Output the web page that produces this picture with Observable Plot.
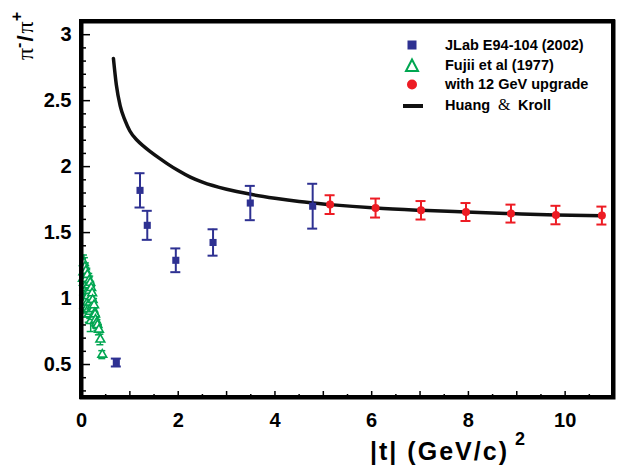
<!DOCTYPE html>
<html><head><meta charset="utf-8">
<script src="https://cdn.jsdelivr.net/npm/d3@7"></script>
<script src="https://cdn.jsdelivr.net/npm/@observablehq/plot@0.6"></script>
<style>body{margin:0;background:#fff;overflow:hidden} #chart svg{display:block}</style>
</head><body><div id="chart"></div>
<script>
// JLab E94-104 (2002)
const jlabT = [0.72, 1.21, 1.36, 1.95, 2.72, 3.49, 4.78];
const jlabR = [0.515, 1.82, 1.555, 1.29, 1.425, 1.724, 1.70];
const jlabE = [0.03, 0.13, 0.11, 0.09, 0.10, 0.13, 0.17];
// Fujii et al (1977)
const fujiiT = [0.03,0.04,0.05,0.05,0.06,0.06,0.07,0.08,0.08,0.09,0.09,0.10,0.11,0.11,0.12,0.12,0.13,0.14,0.14,0.15,0.16,0.16,0.17,0.18,0.18,0.19,0.20,0.20,0.21,0.22,0.23,0.24,0.25,0.26,0.27,0.28,0.29,0.31,0.33,0.36,0.39,0.43];
const fujiiR = [1.15,1.20,1.12,1.27,1.05,0.95,1.24,0.98,1.10,1.15,1.21,1.08,0.93,1.05,1.18,0.97,1.02,1.10,0.92,0.88,1.06,1.14,0.97,1.12,0.90,0.83,1.01,1.08,0.94,1.04,0.99,0.92,0.86,0.95,0.89,0.88,0.84,0.815,0.80,0.765,0.69,0.575];
const fujiiE = [0.06,0.07,0.06,0.06,0.06,0.06,0.07,0.06,0.05,0.05,0.06,0.05,0.07,0.05,0.05,0.05,0.05,0.05,0.05,0.06,0.05,0.05,0.05,0.05,0.05,0.08,0.05,0.05,0.05,0.05,0.05,0.05,0.05,0.05,0.05,0.05,0.05,0.04,0.04,0.04,0.04,0.03];
// with 12 GeV upgrade
const upT = [5.14, 6.08, 7.02, 7.95, 8.88, 9.81, 10.76];
const upR = [1.712, 1.686, 1.669, 1.656, 1.644, 1.633, 1.629];
const upE = [0.071, 0.072, 0.07, 0.068, 0.068, 0.07, 0.068];
// Huang & Kroll curve
const hkT = [0.66, 0.72, 0.80, 0.90, 1.0, 1.15, 1.3, 1.43, 1.6, 1.77, 2.0, 2.25, 2.5, 3.0, 3.5, 4.0, 4.5, 5.14, 6.08, 7.02, 7.95, 8.88, 9.81, 10.76];
const hkR = [2.82, 2.62, 2.46, 2.35, 2.27, 2.20, 2.15, 2.112, 2.066, 2.023, 1.97, 1.92, 1.882, 1.828, 1.79, 1.76, 1.735, 1.712, 1.686, 1.669, 1.656, 1.644, 1.633, 1.627];
// ticks
const xMajor = [0, 2, 4, 6, 8, 10];
const xMinor = d3.range(0.5, 11, 1);
const yMajor = [0.5, 1, 1.5, 2, 2.5, 3];
const yMinor = d3.range(3, 31).map(d => d / 10).filter(d => !yMajor.includes(d));
const xDomain = [0, 11], yDomain = [0.25, 3.1];
const legendLabels = ["JLab E94-104 (2002)", "Fujii et al (1977)", "with 12 GeV upgrade", "Huang", "Kroll"];

const BLUE = "#2e3192", GREEN = "#00a651", RED = "#ed1c24";
const mk = (T, R, E) => T.map((t, i) => ({t, r: R[i], e: E ? E[i] : 0}));
const jlab = mk(jlabT, jlabR, jlabE), fujii = mk(fujiiT, fujiiR, fujiiE), up = mk(upT, upR, upE), hk = mk(hkT, hkR);

function errs(data, color, cap, sw) {
  return [
    Plot.ruleX(data, {x: "t", y1: d => d.r - d.e, y2: d => d.r + d.e, stroke: color, strokeWidth: sw}),
    Plot.ruleY(data, {y: d => d.r + d.e, x1: "t", x2: "t", insetLeft: -cap, insetRight: -cap, stroke: color, strokeWidth: sw}),
    Plot.ruleY(data, {y: d => d.r - d.e, x1: "t", x2: "t", insetLeft: -cap, insetRight: -cap, stroke: color, strokeWidth: sw})
  ];
}

const chart = Plot.plot({
  width: 621, height: 474,
  marginLeft: 81, marginRight: 8, marginTop: 21, marginBottom: 77,
  style: {fontFamily: "'Liberation Sans', Arial, sans-serif", background: "white", color: "black"},
  x: {domain: xDomain},
  y: {domain: yDomain},
  marks: [
    Plot.tickX(xMinor, {x: d => d, insetTop: 373, strokeWidth: 1.5, stroke: "black"}),
    Plot.tickX(xMajor.concat(xMajor.map(d => d + 1)), {x: d => d, insetTop: 370, strokeWidth: 1.5, stroke: "black"}),
    Plot.tickY(yMinor, {y: d => d, insetRight: 527, strokeWidth: 1.5, stroke: "black"}),
    Plot.tickY(yMajor, {y: d => d, insetRight: 523, strokeWidth: 1.5, stroke: "black"}),
    Plot.axisX(xMajor, {tickSize: 0, tickPadding: 15, fontSize: 20, fontWeight: "bold", label: null, tickFormat: d => String(d)}),
    Plot.axisY(yMajor, {tickSize: 0, tickPadding: 10, fontSize: 20, fontWeight: "bold", label: null, tickFormat: d => String(d)}),
    Plot.line(hk, {x: "t", y: "r", strokeWidth: 3.5, stroke: "#111", curve: "monotone-x"}),
    ...errs(fujii, GREEN, 3.5, 1.5),
    Plot.dot(fujii, {x: "t", y: "r", symbol: "triangle2", r: 4.2, stroke: GREEN, strokeWidth: 1.6, fill: "white"}),
    ...errs(jlab, BLUE, 5, 2),
    Plot.dot(jlab, {x: "t", y: "r", symbol: "square", r: 4, fill: BLUE, stroke: "none"}),
    ...errs(up, RED, 5, 2),
    Plot.dot(up, {x: "t", y: "r", r: 4, fill: RED, stroke: "none"}),
    Plot.frame({stroke: "black", strokeWidth: 4})
  ]
});
document.getElementById("chart").append(chart);

const svg = d3.select(chart);
const SANS = "'Liberation Sans', Arial, sans-serif", SERIF = "'Liberation Serif', 'Times New Roman', serif";
// Legend
const lg = svg.append("g").attr("text-anchor", "start");
lg.append("rect").attr("x", 407.5).attr("y", 40.5).attr("width", 9).attr("height", 9).attr("fill", BLUE);
lg.append("path").attr("d", "M412,59.5 L418,71 L406,71 Z").attr("fill", "none").attr("stroke", GREEN).attr("stroke-width", 2);
lg.append("circle").attr("cx", 412).attr("cy", 84.5).attr("r", 5).attr("fill", RED);
lg.append("line").attr("x1", 403).attr("x2", 423).attr("y1", 106).attr("y2", 106).attr("stroke", "#111").attr("stroke-width", 4);
const ys = [49.5, 70, 88.5, 109.5];
legendLabels.slice(0, 3).forEach((t, i) => {
  lg.append("text").attr("x", 445).attr("y", ys[i]).attr("text-anchor", "start").attr("font-family", SANS).attr("font-weight", "bold").attr("font-size", 14.5).attr("fill", "black").text(t);
});
const hkText = lg.append("text").attr("x", 445).attr("y", ys[3]).attr("text-anchor", "start").attr("font-family", SANS).attr("font-weight", "bold").attr("font-size", 14.5).attr("fill", "black");
hkText.append("tspan").text(legendLabels[3]);
hkText.append("tspan").attr("x", 498).attr("font-family", SERIF).attr("font-weight", "normal").attr("font-size", 16).text("&");
hkText.append("tspan").attr("x", 518).text(legendLabels[4]);

// X title
svg.append("text").attr("x", 370).attr("y", 460).attr("text-anchor", "start").attr("font-family", SANS).attr("font-weight", "bold").attr("font-size", 25).attr("fill", "black")
  .attr("textLength", 137).attr("lengthAdjust", "spacing").text("|t| (GeV/c)");
svg.append("text").attr("x", 515).attr("y", 445).attr("text-anchor", "start").attr("font-family", SANS).attr("font-weight", "bold").attr("font-size", 18).attr("fill", "black").text("2");

// Y title (rotated)
const yt = svg.append("text").attr("transform", "translate(33,36) rotate(-90)").attr("text-anchor", "middle").attr("font-size", 24).attr("fill", "black");
yt.append("tspan").attr("font-family", SERIF).text("π");
yt.append("tspan").attr("font-family", SANS).attr("font-weight", "bold").attr("font-size", 16).attr("dy", -9).text("-");
yt.append("tspan").attr("font-family", SANS).attr("font-weight", "bold").attr("font-size", 22).attr("dy", 9).attr("dx", 1).text("/");
yt.append("tspan").attr("font-family", SERIF).attr("dx", 2).text("π");
yt.append("tspan").attr("font-family", SANS).attr("font-weight", "bold").attr("font-size", 16).attr("dy", -11).text("+");

// redundant frame outline drawn last, from the plot's own scales
const sx = chart.scale("x"), sy = chart.scale("y");
svg.append("path")
  .attr("d", `M${sx.apply(xDomain[0])},${sy.apply(yDomain[1])}H${sx.apply(xDomain[1])}V${sy.apply(yDomain[0])}H${sx.apply(xDomain[0])}Z`)
  .attr("fill", "none").attr("stroke", "black").attr("stroke-width", 4);
</script>
</body></html>
